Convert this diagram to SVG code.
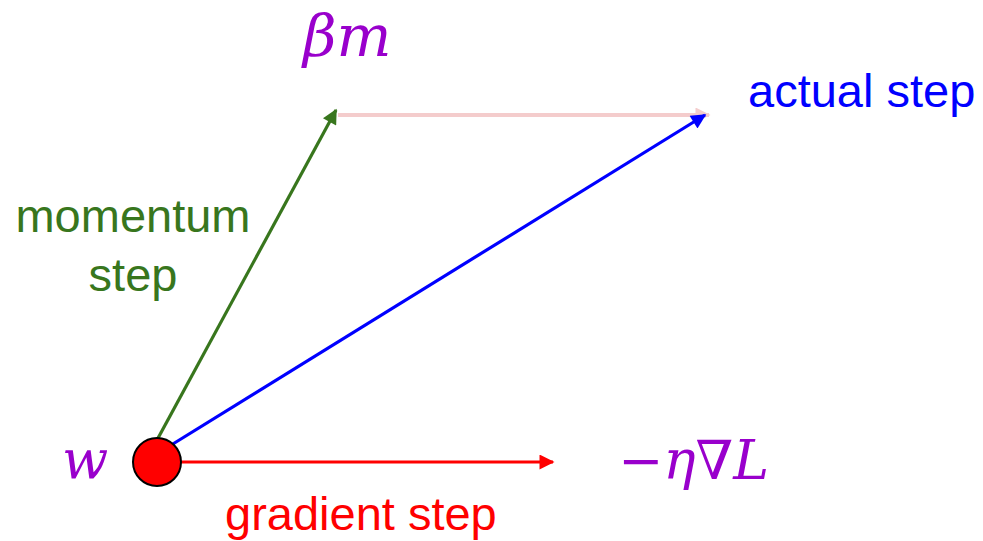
<svg xmlns="http://www.w3.org/2000/svg" width="983" height="541" viewBox="0 0 983 541">
<style>
.lbl{font-family:"Liberation Sans",Arial,sans-serif;font-size:47px}
.math{font-family:"DejaVu Serif","Liberation Serif",serif;font-size:54px;fill:#9900CC}
.it{font-style:italic}
</style>
<defs>
<marker id="ar" viewBox="0 0 10 10" refX="9" refY="5" markerWidth="18" markerHeight="15" markerUnits="userSpaceOnUse" orient="auto"><path d="M0,0 L10,5 L0,10 z" fill="#FF0000"/></marker>
<marker id="ab" viewBox="0 0 10 10" refX="9" refY="5" markerWidth="18" markerHeight="15" markerUnits="userSpaceOnUse" orient="auto"><path d="M0,0 L10,5 L0,10 z" fill="#0000FF"/></marker>
<marker id="ap" viewBox="0 0 10 10" refX="9" refY="5" markerWidth="18" markerHeight="15" markerUnits="userSpaceOnUse" orient="auto"><path d="M0,0 L10,5 L0,10 z" fill="#F4CCCC"/></marker>
<marker id="agr" viewBox="0 0 10 10" refX="9" refY="5" markerWidth="18" markerHeight="15" markerUnits="userSpaceOnUse" orient="auto"><path d="M0,0 L10,5 L0,10 z" fill="#38761D"/></marker>
</defs>
<g id="connectors" fill="none">
<line x1="338" y1="115" x2="709" y2="115" stroke="#F4CCCC" stroke-width="4" marker-end="url(#ap)"/>
<line x1="157" y1="440" x2="336" y2="110" stroke="#38761D" stroke-width="3.2" marker-end="url(#agr)"/>
<line x1="168" y1="447" x2="705" y2="115" stroke="#0000FF" stroke-width="3.2" marker-end="url(#ab)"/>
<line x1="181" y1="462" x2="553" y2="462" stroke="#FF0000" stroke-width="3.2" marker-end="url(#ar)"/>
</g>
<g id="node-w">
<circle cx="157" cy="462" r="24" fill="#FF0000" stroke="#000" stroke-width="2"/>
<text class="math it" x="62" y="478">w</text>
</g>
<g id="label-bm"><text class="math it" x="303" y="56" style="font-size:58px">βm</text></g>
<g id="label-actual"><text class="lbl" x="748" y="107" fill="#0000FF">actual step</text></g>
<g id="label-momentum"><text class="lbl" x="133" y="232" fill="#38761D" text-anchor="middle">momentum</text><text class="lbl" x="133" y="291" fill="#38761D" text-anchor="middle">step</text></g>
<g id="label-gradient"><text class="lbl" x="225" y="530" fill="#FF0000">gradient step</text></g>
<g id="label-grad"><text class="math" x="618" y="479">−<tspan class="it">η</tspan>∇<tspan class="it">L</tspan></text></g>
</svg>
